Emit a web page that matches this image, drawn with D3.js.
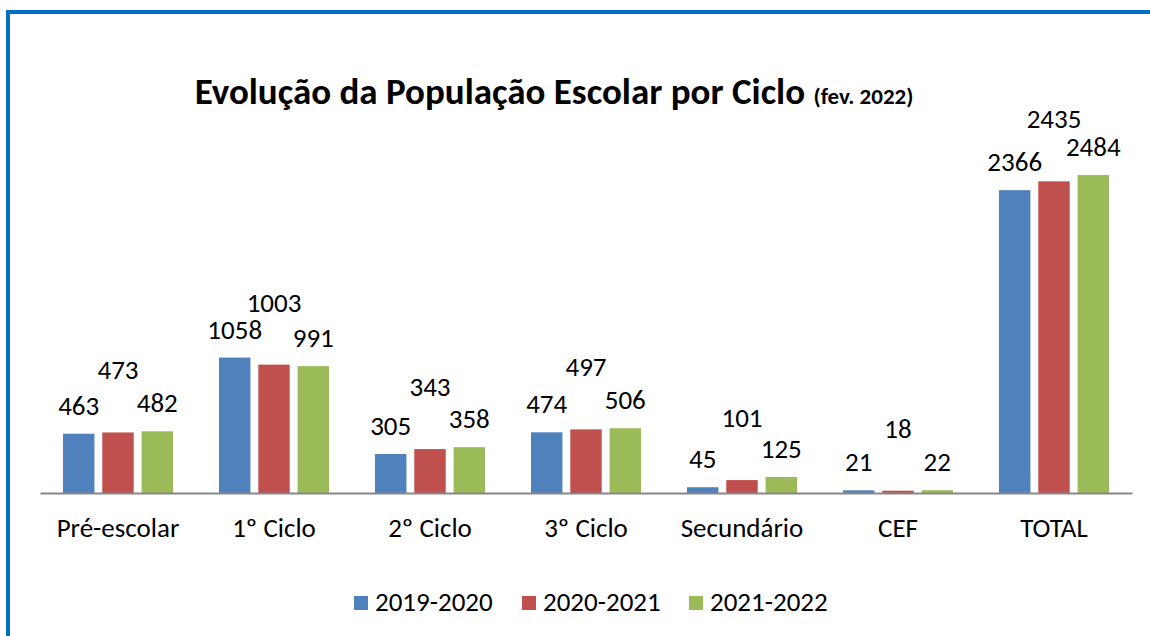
<!DOCTYPE html>
<html>
<head>
<meta charset="utf-8">
<script src="https://cdn.jsdelivr.net/npm/d3@7"></script>
<style>
  body { margin: 0; background: #fff; }
  text { font-family: Carlito, Calibri, "Open Sans", "Noto Sans", sans-serif; fill: #000; }
</style>
</head>
<body>
<div id="chart"></div>
<script>
// Data
var categories = ["Pré-escolar", "1º Ciclo", "2º Ciclo", "3º Ciclo", "Secundário", "CEF", "TOTAL"];
var seriesNames = ["2019-2020", "2020-2021", "2021-2022"];
var v2019 = [463, 1058, 305, 474, 45, 21, 2366];
var v2020 = [473, 1003, 343, 497, 101, 18, 2435];
var v2021 = [482, 991, 358, 506, 125, 22, 2484];
var colors = ["#4F81BD", "#C0504D", "#9BBB59"];

var allSeries = [v2019, v2020, v2021];
var fontStack = "Carlito, Calibri, 'Open Sans', 'Noto Sans', sans-serif";

var W = 1150, H = 636;
var margin = { top: 109, left: 40, right: 18, bottom: 143 };
var plotW = W - margin.left - margin.right,
    plotH = H - margin.top - margin.bottom;

var svg = d3.select("#chart").append("svg")
    .attr("width", W)
    .attr("height", H);

// blue frame (only top and left edges visible)
svg.append("rect")
    .attr("x", 8).attr("y", 12)
    .attr("width", W + 20).attr("height", H + 20)
    .attr("fill", "none")
    .attr("stroke", "#0070C0")
    .attr("stroke-width", 4);

// Title
var title = svg.append("text")
    .attr("x", 554).attr("y", 104)
    .attr("text-anchor", "middle")
    .style("font-weight", "bold");
title.append("tspan").style("font-size", "37px").text("Evolução da População Escolar por Ciclo ");
title.append("tspan").style("font-size", "23px").text("(fev. 2022)");

var g = svg.append("g")
    .attr("transform", "translate(" + margin.left + "," + margin.top + ")");

var x0 = d3.scaleBand().domain(categories).range([0, plotW]).paddingInner(0).paddingOuter(0);
var x1 = d3.scaleBand().domain(d3.range(3)).range([23, x0.bandwidth() - 23]).paddingInner(0.2);
var y = d3.scaleLinear().domain([0, 3000]).range([plotH, 0]);

var rows = [];
categories.forEach(function (c, i) {
    allSeries.forEach(function (s, k) {
        rows.push({ cat: c, k: k, v: s[i] });
    });
});

g.selectAll("rect.bar")
    .data(rows)
    .enter().append("rect")
    .attr("class", "bar")
    .attr("x", function (d) { return x0(d.cat) + x1(d.k); })
    .attr("y", function (d) { return y(d.v); })
    .attr("width", x1.bandwidth())
    .attr("height", function (d) { return plotH - y(d.v); })
    .attr("fill", function (d) { return colors[d.k]; });

// value labels: the middle series is lifted higher, like the original
g.selectAll("text.val")
    .data(rows)
    .enter().append("text")
    .attr("class", "val")
    .attr("x", function (d) { return x0(d.cat) + x1(d.k) + x1.bandwidth() / 2; })
    .attr("y", function (d) { return y(d.v) - (d.k === 1 ? 53 : 19); })
    .attr("text-anchor", "middle")
    .style("font-size", "27px")
    .text(function (d) { return d.v; });

// x axis
var xAxis = g.append("g")
    .attr("transform", "translate(0," + plotH + ")")
    .call(d3.axisBottom(x0).tickSize(0).tickPadding(25));
xAxis.select(".domain").attr("stroke", "#888").attr("stroke-width", 2);
xAxis.selectAll("text")
    .style("font-size", "27px")
    .style("font-family", fontStack)
    .attr("fill", "#000");

// legend
var legendX = [354, 522, 689];
var legend = svg.append("g");
seriesNames.forEach(function (name, i) {
    legend.append("rect")
        .attr("x", legendX[i]).attr("y", 596)
        .attr("width", 14).attr("height", 14)
        .attr("fill", colors[i]);
    legend.append("text")
        .attr("x", legendX[i] + 21).attr("y", 611)
        .style("font-size", "27px")
        .text(name);
});
</script>
</body>
</html>
